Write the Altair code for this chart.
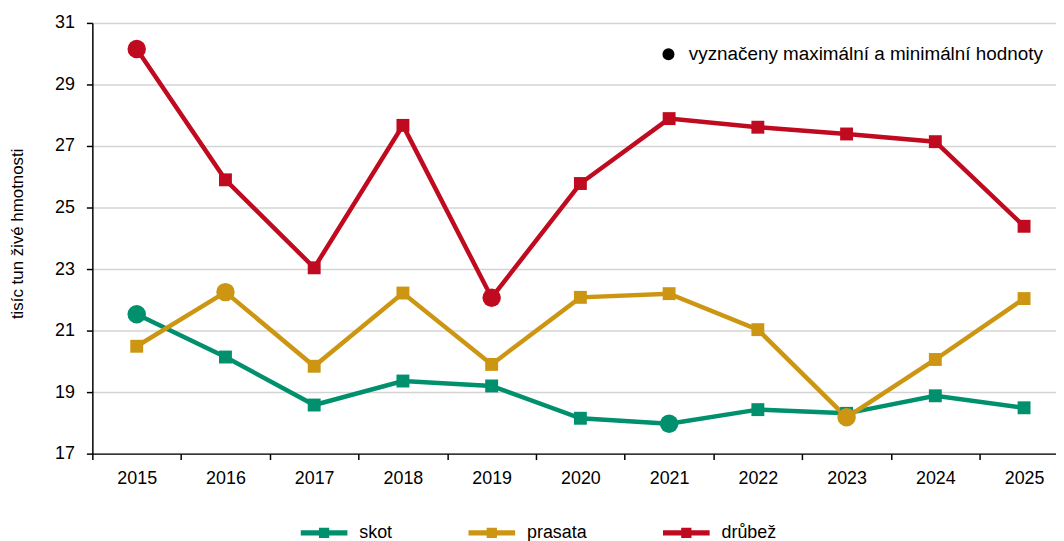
import altair as alt
import pandas as pd

years = list(range(2015, 2026))
series = ["skot", "prasata", "drůbež"]
skot = [21.53, 20.14, 18.58, 19.36, 19.20, 18.15, 17.97, 18.43, 18.31, 18.88, 18.49]
prasata = [20.49, 22.25, 19.84, 22.22, 19.90, 22.08, 22.20, 21.03, 18.18, 20.06, 22.04]
drubez = [30.15, 25.90, 23.04, 27.67, 22.07, 25.78, 27.89, 27.61, 27.39, 27.14, 24.39]
colors = ["#00906D", "#CC9612", "#C00A1F"]
note = "vyznačeny maximální a minimální hodnoty"
y_title = "tisíc tun živé hmotnosti"
y_ticks = [17, 19, 21, 23, 25, 27, 29, 31]
x_ticks = [2014.5 + i * 0.5 for i in range(22)]

rows = []
for name, vals in zip(series, [skot, prasata, drubez]):
    mx, mn = max(vals), min(vals)
    for yr, v in zip(years, vals):
        rows.append({"rok": yr, "serie": name, "hodnota": v,
                     "extrem": bool(v == mx or v == mn), "pozn": note})
df = pd.DataFrame(rows)

FONT = "Liberation Sans"
FS = 18

x = alt.X(
    "rok:Q",
    title=None,
    scale=alt.Scale(domain=[2014.5, 2025.36], nice=False, zero=False),
    axis=alt.Axis(
        values=x_ticks,
        labelExpr="datum.value % 1 === 0 ? toString(datum.value) : ''",
        tickOpacity={"condition": {"test": "datum.value % 1 === 0", "value": 0}, "value": 1},
        grid=False,
        labelOverlap=False,
        labelFlush=False,
        labelBound=False,
        tickSize=6,
        tickColor="black",
        tickWidth=1.5,
        domainColor="black",
        domainWidth=1.5,
        labelFontSize=FS,
        labelFont=FONT,
        labelColor="black",
        labelPadding=10,
    ),
)
y = alt.Y(
    "hodnota:Q",
    scale=alt.Scale(domain=[17, 31], nice=False, zero=False),
    axis=alt.Axis(
        values=y_ticks,
        title=y_title,
        titleFont=FONT,
        titleFontSize=17,
        titleFontWeight="normal",
        titleColor="black",
        titleX=-75,
        titleY=212,
        titleAngle=270,
        titleBaseline="middle",
        titleAlign="center",
        grid=True,
        gridColor="#d4d4d4",
        gridWidth=1.5,
        tickSize=6,
        tickColor="black",
        tickWidth=1.5,
        domainColor="black",
        domainWidth=1.5,
        labelFontSize=FS,
        labelFont=FONT,
        labelColor="black",
        labelPadding=12,
    ),
)

legend_path = "M-1,-0.113H1V0.113H-1Z M-0.22,-0.22H0.22V0.22H-0.22Z"
color_scale = alt.Scale(domain=series, range=colors)

base = alt.Chart(df)

lines = base.mark_line(strokeWidth=4.5).encode(
    x=x, y=y,
    color=alt.Color("serie:N", scale=color_scale, legend=None),
)

squares = base.transform_filter("!datum.extrem").mark_point(
    shape="square", filled=True, size=169, opacity=1
).encode(
    x=x, y=y,
    color=alt.Color(
        "serie:N", scale=color_scale,
        legend=alt.Legend(
            orient="none", legendX=210, legendY=490, direction="horizontal",
            title=None, symbolType=legend_path, symbolSize=2209,
            symbolStrokeWidth=0, symbolOpacity=1, labelFontSize=FS, labelFont=FONT,
            labelColor="black", labelOffset=12, columnPadding=76, padding=0,
        ),
    ),
)

circles = base.transform_filter("datum.extrem").mark_point(
    filled=True, size=346, opacity=1
).encode(
    x=x, y=y,
    color=alt.Color("serie:N", scale=color_scale, legend=None),
    shape=alt.Shape(
        "pozn:N", scale=alt.Scale(range=["circle"]),
        legend=alt.Legend(
            orient="none", legendX=571, legendY=22, title=None,
            symbolFillColor="black", symbolStrokeColor="black", symbolSize=113,
            symbolOpacity=1, labelFontSize=19, labelFont=FONT, labelColor="black",
            labelOffset=11, labelLimit=0, padding=0,
        ),
    ),
)

chart = alt.layer(lines, squares, circles).resolve_legend(
    color="independent"
).properties(
    width=971,
    height=434,
    autosize=alt.AutoSizeParams(type="none"),
    padding={"left": 85, "top": 13, "right": 0, "bottom": 86},
    background="white",
).configure_view(stroke=None)

chart.save("out.html", embed_options={"renderer": "svg", "actions": False})
